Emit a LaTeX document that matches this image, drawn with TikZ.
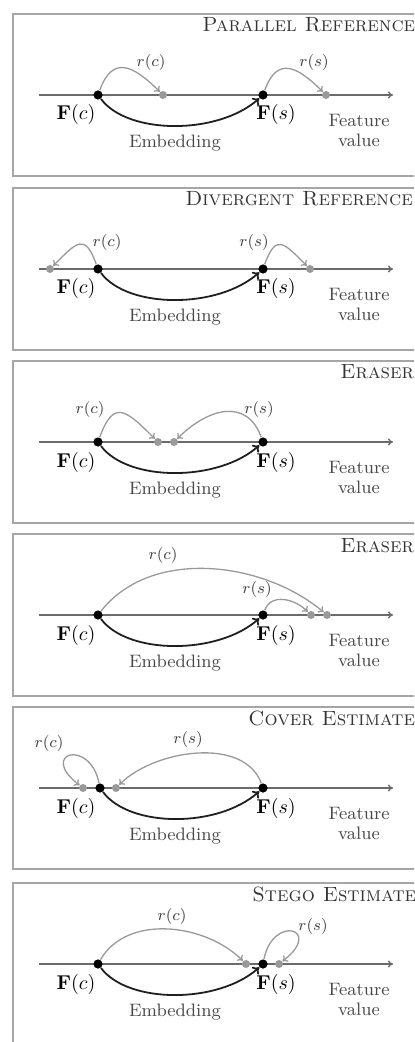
\documentclass[tikz,border=0pt]{standalone}
\usetikzlibrary{arrows.meta}
\tikzset{
 boxline/.style={draw=black!35, line width=0.75pt},
 axisline/.style={draw=black!58, line width=0.7pt, -{To[length=2.5pt,width=3.5pt]}},
 bdot/.style={circle, fill=black, inner sep=0pt, minimum size=4.6pt},
 gdot/.style={circle, fill=black!40, inner sep=0pt, minimum size=4pt},
 emb/.style={draw=black!88, line width=0.9pt, -{To[length=3pt,width=5pt]}},
 rarr/.style={draw=black!40, line width=0.65pt, -{To[length=2.5pt,width=4pt]}},
 ttl/.style={font=\fontsize{10.3}{12}\selectfont\scshape, text=black!80, inner sep=0pt},
 flab/.style={font=\fontsize{10}{12}\selectfont, inner sep=0pt},
 rlab/.style={font=\fontsize{8.5}{10}\selectfont, text=black!75, inner sep=0pt},
 tlab/.style={font=\fontsize{9}{10}\selectfont, text=black!72, align=center, inner sep=0pt},
}
\newcommand\panelbase[4]{%
 \draw[boxline] (13,-81) rectangle (440,81);
 \node[ttl, anchor=base west] (t#1) at (#2,-63) {#3};
 \coordinate (a#1) at (39,0);
 \coordinate (b#1) at (393,0);
 \draw[axisline] (a#1) -- (b#1);
 \node[bdot] (fc#1) at (#4,0) {};
 \node[bdot] (fs#1) at (263,0) {};
 \node[flab] (lfc#1) at (76,20) {$\mathbf{F}(c)$};
 \node[flab] (lfs#1) at (276,20) {$\mathbf{F}(s)$};
 \node[tlab] (fv#1) at (359,35) {Feature\\value};
 \node[tlab] (el#1) at (175,48) {Embedding};
 \draw[emb] (fc#1) .. controls +(30,40) and +(-45,40) .. (fs#1);
}
\begin{document}
\begin{tikzpicture}[x=0.5pt,y=-0.5pt]
\useasboundingbox (0,0) rectangle (414,1042);
\clip (0,0) rectangle (414,1042);
% Panel 1
\begin{scope}[shift={(0,95)}]
 \panelbase{1}{202}{Parallel Reference}{98}
 \node[gdot] (gc1) at (163,0) {};
 \node[gdot] (gs1) at (326,0) {};
 \draw[rarr] (fc1) to[out=70,in=135,looseness=1.6] (gc1);
 \draw[rarr] (fs1) to[out=70,in=135,looseness=1.6] (gs1);
 \node[rlab] (rc1) at (151,-32) {$r(c)$};
 \node[rlab] (rs1) at (314,-32) {$r(s)$};
\end{scope}
% Panel 2
\begin{scope}[shift={(0,269)}]
 \panelbase{2}{185}{Divergent Reference}{98}
 \node[gdot] (gc2) at (50,0) {};
 \node[gdot] (gs2) at (310,0) {};
 \draw[rarr] (fc2) to[out=110,in=45,looseness=2] (gc2);
 \draw[rarr] (fs2) to[out=70,in=135,looseness=2] (gs2);
 \node[rlab] (rc2) at (107,-26) {$r(c)$};
 \node[rlab] (rs2) at (254,-26) {$r(s)$};
\end{scope}
% Panel 3
\begin{scope}[shift={(0,442)}]
 \panelbase{3}{340}{Eraser}{98}
 \node[gdot] (gc3) at (158,0) {};
 \node[gdot] (gs3) at (174,0) {};
 \draw[rarr] (fc3) to[out=70,in=135,looseness=1.9] (gc3);
 \draw[rarr] (fs3) to[out=110,in=45,looseness=1.3] (gs3);
 \node[rlab] (rc3) at (90,-32) {$r(c)$};
 \node[rlab] (rs3) at (259,-32) {$r(s)$};
\end{scope}
% Panel 4
\begin{scope}[shift={(0,615)}]
 \panelbase{4}{340}{Eraser}{98}
 \node[gdot] (gc4) at (327,0) {};
 \node[gdot] (gs4) at (311,0) {};
 \draw[rarr] (fc4) to[out=52,in=140,looseness=0.92] (gc4);
 \draw[rarr] (fs4) to[out=70,in=135,looseness=1.1] (gs4);
 \node[rlab] (rc4) at (163,-60) {$r(c)$};
 \node[rlab] (rs4) at (257,-26) {$r(s)$};
\end{scope}
% Panel 5
\begin{scope}[shift={(0,788)}]
 \panelbase{5}{248}{Cover Estimate}{100}
 \node[gdot] (gc5) at (83,0) {};
 \node[gdot] (gs5) at (116,0) {};
 \draw[rarr] (fc5) .. controls +(-10,-50) and +(-45,-35) .. (gc5);
 \draw[rarr] (fs5) to[out=110,in=45,looseness=0.9] (gs5);
 \node[rlab] (rc5) at (49,-45) {$r(c)$};
 \node[rlab] (rs5) at (188,-49) {$r(s)$};
\end{scope}
% Panel 6
\begin{scope}[shift={(0,964)}]
 \panelbase{6}{252}{Stego Estimate}{98}
 \node[gdot] (gc6) at (246,0) {};
 \node[gdot] (gs6) at (279,0) {};
 \draw[rarr] (fc6) to[out=60,in=135,looseness=0.95] (gc6);
 \draw[rarr] (fs6) .. controls +(10,-50) and +(45,-35) .. (gs6);
 \node[rlab] (rc6) at (172,-48) {$r(c)$};
 \node[rlab] (rs6) at (313,-38) {$r(s)$};
\end{scope}
\end{tikzpicture}
\end{document}
